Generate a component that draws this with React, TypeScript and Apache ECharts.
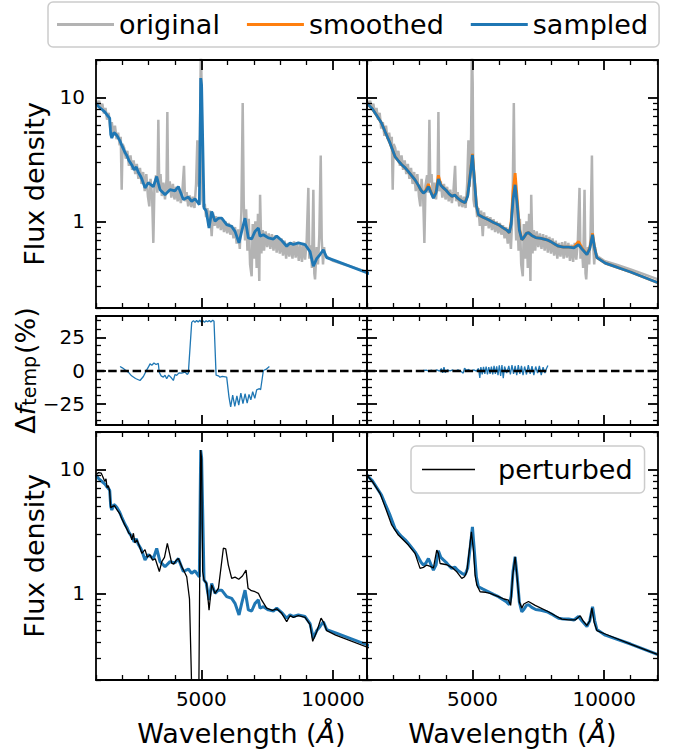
import React, { useEffect, useRef } from "react";
import * as echarts from "echarts";

type Pt = [number, number];

// ---------- data (wavelength in Å, flux density) ----------
const originalFlux: Pt[] = [
  [1000, 9.5], [1060, 8.6], [1120, 9.4], [1180, 8.0], [1240, 8.9], [1300, 7.4], [1360, 8.2], [1420, 6.6],
  [1480, 7.5], [1540, 5.6], [1600, 6.3], [1660, 4.9], [1720, 5.9], [1780, 4.6], [1840, 5.2], [1900, 4.1],
  [1940, 4.8], [1975, 1.8], [2010, 4.2], [2070, 3.9], [2130, 3.2], [2190, 3.7], [2250, 2.8], [2310, 3.4],
  [2370, 2.6], [2430, 3.1], [2490, 2.4], [2550, 2.9], [2610, 2.2], [2670, 2.7], [2730, 2.0], [2790, 2.5],
  [2850, 1.75], [2910, 2.4], [2970, 1.6], [3025, 1.32], [3070, 2.2], [3130, 1.6], [3177, 0.67], [3220, 1.95],
  [3280, 2.35], [3330, 1.7], [3367, 6.6], [3400, 2.05], [3450, 2.4], [3500, 1.6], [3560, 2.05], [3620, 1.5],
  [3680, 2.2], [3709, 7.6], [3740, 1.75], [3800, 2.1], [3860, 1.55], [3920, 2.0], [3980, 1.5], [4040, 1.9],
  [4100, 1.45], [4160, 1.8], [4220, 1.4], [4280, 1.75], [4342, 2.8], [4380, 1.45], [4440, 1.72], [4500, 1.32],
  [4560, 1.62], [4620, 1.3], [4680, 1.58], [4740, 1.28], [4800, 2.0], [4848, 4.5], [4900, 1.9], [4950, 5.0],
  [4980, 25], [5010, 13], [5040, 1.5], [5080, 1.3], [5130, 1.38], [5180, 1.08], [5230, 1.28], [5280, 0.92],
  [5330, 1.22], [5392, 0.76], [5440, 1.18], [5500, 0.92], [5560, 1.1], [5620, 0.88], [5680, 1.08], [5740, 0.85],
  [5800, 1.04], [5860, 0.82], [5920, 1.0], [5980, 0.8], [6040, 0.97], [6100, 0.78], [6160, 0.93], [6220, 0.73],
  [6280, 0.9], [6340, 0.66], [6400, 0.86], [6460, 0.6], [6520, 1.2], [6570, 9.0], [6610, 1.4], [6660, 0.7],
  [6700, 1.25], [6750, 0.58], [6800, 1.05], [6850, 0.45], [6910, 0.36], [6950, 0.95], [7000, 0.5], [7050, 1.0],
  [7100, 0.42], [7150, 1.15], [7200, 0.33], [7230, 1.64], [7280, 0.55], [7330, 0.85], [7380, 0.58], [7440, 0.83],
  [7500, 0.62], [7560, 0.8], [7620, 0.6], [7680, 0.79], [7740, 0.58], [7800, 0.77], [7860, 0.56], [7920, 0.75],
  [7980, 0.55], [8040, 0.73], [8100, 0.53], [8160, 0.7], [8220, 0.5], [8280, 0.67], [8340, 0.52], [8400, 0.68],
  [8460, 0.5], [8520, 0.69], [8580, 0.51], [8640, 0.67], [8700, 0.48], [8760, 0.65], [8820, 0.47], [8880, 0.67],
  [8940, 0.49], [9000, 0.7], [9063, 1.86], [9100, 0.5], [9150, 0.64], [9200, 0.42], [9253, 1.8], [9290, 0.38],
  [9317, 0.34], [9380, 0.62], [9430, 0.45], [9480, 0.78], [9533, 3.4], [9570, 0.72], [9620, 0.45], [9660, 0.62],
  [9700, 0.53], [10000, 0.48], [10500, 0.445], [11000, 0.41], [11500, 0.375], [12040, 0.34],
];

const sampledLeftFlux: Pt[] = [
  [1000, 9.0], [1100, 8.4], [1250, 7.9], [1340, 7.6], [1420, 7.2], [1470, 7.0], [1520, 6.8], [1560, 5.0],
  [1600, 4.7], [1680, 5.2], [1730, 5.1], [1800, 4.9], [1900, 4.5], [1980, 4.1], [2100, 3.6], [2170, 3.4],
  [2250, 3.1], [2360, 2.85], [2450, 2.6], [2530, 2.75], [2600, 2.5], [2700, 2.3], [2740, 2.2], [2861, 1.86],
  [2987, 2.05], [3177, 1.9], [3305, 2.3], [3430, 1.8], [3550, 1.7], [3620, 1.64], [3810, 1.8], [4000, 1.76],
  [4126, 1.91], [4316, 1.5], [4506, 1.57], [4632, 1.45], [4760, 1.52], [4924, 1.36], [4976, 14.3], [5010, 12.5],
  [5102, 1.28], [5180, 1.22], [5292, 0.885], [5392, 1.2], [5520, 1.0], [5646, 1.06], [5773, 1.06], [5962, 0.94],
  [6152, 0.91], [6278, 0.83], [6431, 0.67], [6532, 0.83], [6659, 1.06], [6785, 0.735], [6912, 0.72], [7038, 0.83],
  [7165, 0.885], [7228, 0.76], [7355, 0.78], [7545, 0.735], [7735, 0.72], [7861, 0.76], [8051, 0.7], [8241, 0.63],
  [8367, 0.67], [8494, 0.65], [8684, 0.67], [8937, 0.65], [9127, 0.57], [9253, 0.435], [9380, 0.5], [9507, 0.54],
  [9633, 0.59], [9760, 0.51], [10100, 0.48], [12040, 0.335],
];

const smoothedRightFlux: Pt[] = [
  [1000, 9.0], [1050, 8.7], [1200, 8.1], [1430, 6.8], [1550, 6.2], [1684, 5.3], [1874, 4.27], [2063, 3.33],
  [2200, 3.05], [2318, 2.86], [2450, 2.7], [2570, 2.52], [2700, 2.33], [2823, 2.16], [2950, 1.95], [3050, 1.78],
  [3140, 1.69], [3230, 1.78], [3330, 2.0], [3420, 1.74], [3520, 1.55], [3620, 1.75], [3708, 2.35], [3800, 1.98],
  [3900, 1.86], [4000, 1.78], [4100, 1.68], [4216, 1.59], [4330, 1.63], [4450, 1.53], [4600, 1.45], [4722, 1.41],
  [4820, 1.62], [4920, 2.45], [5000, 3.5], [5080, 2.15], [5150, 1.36], [5227, 1.13], [5400, 1.08], [5607, 1.03],
  [5800, 0.98], [5987, 0.94], [6150, 0.89], [6300, 0.85], [6400, 0.81], [6470, 1.0], [6540, 1.75], [6620, 2.45],
  [6700, 1.5], [6780, 0.88], [6873, 0.71], [6950, 0.74], [7050, 0.8], [7127, 0.81], [7250, 0.77], [7400, 0.74],
  [7600, 0.73], [7823, 0.71], [8000, 0.68], [8150, 0.65], [8266, 0.63], [8450, 0.62], [8650, 0.62], [8850, 0.62],
  [9025, 0.69], [9150, 0.61], [9343, 0.54], [9450, 0.61], [9557, 0.8], [9640, 0.6], [9722, 0.51], [10038, 0.46],
  [11000, 0.39], [12040, 0.32],
];

const sampledRightFlux: Pt[] = [
  [1000, 9.0], [1050, 8.7], [1200, 8.1], [1430, 6.8], [1550, 6.2], [1684, 5.3], [1874, 4.27], [2063, 3.33],
  [2200, 3.05], [2318, 2.86], [2450, 2.7], [2570, 2.52], [2700, 2.33], [2823, 2.16], [2950, 1.95], [3050, 1.78],
  [3140, 1.69], [3230, 1.75], [3330, 1.91], [3420, 1.72], [3520, 1.54], [3620, 1.7], [3708, 2.2], [3800, 1.95],
  [3900, 1.86], [4000, 1.78], [4100, 1.68], [4216, 1.59], [4330, 1.63], [4450, 1.53], [4600, 1.45], [4722, 1.41],
  [4820, 1.6], [4920, 2.4], [5000, 3.44], [5080, 2.1], [5150, 1.35], [5227, 1.13], [5400, 1.08], [5607, 1.03],
  [5800, 0.98], [5987, 0.94], [6150, 0.89], [6300, 0.85], [6400, 0.81], [6470, 0.95], [6540, 1.5], [6620, 1.97],
  [6700, 1.35], [6780, 0.85], [6873, 0.71], [6950, 0.74], [7050, 0.8], [7127, 0.81], [7250, 0.77], [7400, 0.74],
  [7600, 0.73], [7823, 0.71], [8000, 0.68], [8150, 0.65], [8266, 0.63], [8450, 0.62], [8650, 0.62], [8850, 0.61],
  [9025, 0.65], [9150, 0.6], [9343, 0.54], [9450, 0.6], [9557, 0.78], [9640, 0.6], [9722, 0.51], [10038, 0.46],
  [11000, 0.39], [12040, 0.32],
];

const perturbedLeftFlux: Pt[] = [
  [1000, 9.1], [1100, 9.4], [1200, 9.3], [1300, 8.3], [1340, 8.0], [1380, 8.4], [1420, 7.1], [1470, 7.4],
  [1520, 6.6], [1560, 4.9], [1620, 5.0], [1700, 5.1], [1800, 4.7], [1900, 4.4], [1980, 4.0], [2080, 3.6],
  [2170, 3.3], [2250, 3.05], [2300, 3.0], [2360, 2.7], [2420, 3.05], [2480, 2.55], [2550, 2.7], [2650, 2.4],
  [2740, 2.1], [2861, 2.25], [2950, 1.95], [3050, 2.05], [3150, 1.85], [3250, 1.9], [3405, 1.5], [3500, 1.8],
  [3600, 1.95], [3709, 2.53], [3874, 1.75], [3950, 1.72], [4050, 1.85], [4126, 1.91], [4250, 1.65], [4350, 1.5],
  [4445, 1.36], [4550, 0.9], [4696, 0.05], [4886, 0.05], [4976, 14.3], [5010, 12], [5050, 1.5], [5102, 1.28],
  [5200, 1.2], [5292, 0.73], [5392, 1.17], [5520, 1.0], [5650, 1.1], [5836, 2.31], [5925, 2.28], [6025, 1.69],
  [6152, 1.32], [6280, 1.35], [6420, 1.3], [6560, 1.38], [6697, 1.54], [6773, 1.1], [6900, 1.05], [7040, 1.03],
  [7165, 1.0], [7292, 0.88], [7481, 0.76], [7700, 0.73], [7861, 0.75], [8051, 0.69], [8241, 0.59], [8367, 0.66],
  [8494, 0.64], [8684, 0.66], [8937, 0.64], [9127, 0.56], [9228, 0.41], [9380, 0.49], [9545, 0.63], [9650, 0.58],
  [9760, 0.5], [10100, 0.46], [12040, 0.32],
];

const perturbedRightFlux: Pt[] = [
  [1000, 9.0], [1050, 8.7], [1200, 8.0], [1494, 6.4], [1684, 5.0], [1937, 3.56], [2190, 2.95], [2570, 2.45],
  [2823, 2.1], [3013, 1.59], [3140, 1.62], [3266, 1.69], [3400, 1.65], [3519, 1.6], [3646, 2.23], [3708, 2.1],
  [3773, 1.74], [4026, 1.7], [4216, 1.62], [4406, 1.49], [4596, 1.32], [4700, 1.36], [4786, 1.49], [4900, 2.4],
  [4960, 3.14], [5040, 2.2], [5100, 1.4], [5165, 1.17], [5291, 1.03], [5500, 1.02], [5671, 1.0], [5987, 0.94],
  [6200, 0.9], [6367, 0.88], [6450, 0.8], [6530, 1.4], [6620, 1.97], [6700, 1.3], [6780, 0.85], [6873, 0.76],
  [6950, 0.82], [7127, 0.86], [7380, 0.8], [7886, 0.71], [8150, 0.66], [8392, 0.62], [8645, 0.61], [8899, 0.61],
  [9089, 0.66], [9200, 0.6], [9343, 0.55], [9450, 0.6], [9533, 0.76], [9620, 0.58], [9722, 0.5], [10038, 0.47],
  [11000, 0.39], [12040, 0.32],
];

// Δf_temp in %
const deltaLeft: Pt[] = [
  [1912, 3.0], [2000, 2.0], [2100, 0.5], [2228, -1.2], [2350, -4.0], [2500, -6.0], [2671, -7.5], [2800, -4.5],
  [2900, -0.5], [2987, 2.5], [3051, 5.0], [3120, 4.0], [3200, 5.6], [3280, 4.5], [3367, 5.3], [3400, -1.2],
  [3470, -4.0], [3557, -5.0], [3620, -3.5], [3684, -6.2], [3760, -3.5], [3860, -5.5], [3937, -7.5], [4000, -3.0],
  [4063, -3.7], [4150, -1.8], [4250, -2.0], [4380, -1.2], [4470, -3.0], [4506, -2.0], [4634, 36.2], [4700, 37.5],
  [4760, 36.2], [4820, 37.6], [4880, 36.5], [4940, 37.8], [5000, 36.4], [5060, 37.4], [5120, 36.2], [5180, 37.5],
  [5240, 36.6], [5300, 37.6], [5360, 36.5], [5432, 37.8], [5481, 37.0], [5560, -3.5], [5646, -4.0], [5709, -5.0],
  [5800, -4.5], [5962, -5.0], [6050, -20.0], [6114, -27.4], [6190, -18.5], [6270, -27.0], [6350, -19.0], [6420, -26.0],
  [6500, -17.0], [6580, -25.0], [6660, -17.5], [6740, -24.5], [6810, -18.0], [6880, -22.0], [6950, -16.0], [7030, -21.0],
  [7100, -14.5], [7203, -13.7], [7250, -14.5], [7355, 0.0], [7450, 0.8], [7583, 3.0],
];

const deltaRight: Pt[] = [
  [3139, 0.0], [3250, 0.3], [3350, -0.5], [3450, 0.2], [3550, -0.6], [3650, 0.5], [3750, -0.5], [3820, 1.5],
  [3870, -1.8], [3920, 2.5], [3970, -1.5], [4050, 0.5], [4150, -0.3], [4250, 0.4], [4350, -0.8], [4450, 0.5],
  [4550, -0.4], [4650, -2.0], [4700, 1.8], [4780, 0.0], [4850, 0.8], [4950, -0.5], [5050, 0.5], [5150, -0.5],
  [5230, 1.5], [5280, -5.5], [5320, 2.5], [5370, -3.0], [5420, 2.8], [5470, -2.5], [5520, 3.0], [5570, -3.0],
  [5620, 2.5], [5670, -2.5], [5720, 3.0], [5770, -3.0], [5820, 3.5], [5870, -2.5], [5920, 3.2], [5970, -3.5],
  [6020, 3.8], [6070, -4.0], [6120, 4.0], [6170, -5.8], [6220, 3.0], [6300, -2.0], [6380, 3.5], [6440, -3.0],
  [6500, 4.0], [6560, -2.5], [6620, 3.5], [6680, -3.5], [6740, 4.0], [6800, -2.5], [6860, 3.5], [6920, -3.5],
  [6980, 3.0], [7050, -3.0], [7120, 4.0], [7190, -2.5], [7260, 3.2], [7330, -3.5], [7400, 3.0], [7470, -2.0],
  [7540, 3.5], [7610, -3.5], [7680, 2.5], [7750, -2.0], [7810, 1.5], [7863, 3.7],
];

// ---------- tick values ----------
const xMajorTicks = [5000, 10000];
const xMinorTicks = [1000, 2000, 3000, 4000, 6000, 7000, 8000, 9000, 11000, 12000];
const fluxMajorTicks = [1, 10];
const fluxMinorTicks = [0.2, 0.3, 0.4, 0.5, 0.6, 0.7, 0.8, 0.9, 2, 3, 4, 5, 6, 7, 8, 9, 20];
const deltaMajorTicks = [-25, 0, 25];
const deltaMinorTicks = [-37.5, -31.25, -18.75, -12.5, -6.25, 6.25, 12.5, 18.75, 31.25, 37.5];

const FONT = "DejaVu Sans";
const BLUE = "#1f77b4";
const ORANGE = "#ff7f0e";
const GREY = "#b3b3b3";
const BLACK = "#000000";

function buildOption() {
  const panels = [
    { row: 0, col: 0 }, { row: 0, col: 1 },
    { row: 1, col: 0 }, { row: 1, col: 1 },
    { row: 2, col: 0 }, { row: 2, col: 1 },
  ];
  const colLeft = [96, 367];
  const colWidth = [271, 291];
  const xMax = [11290, 12040];
  const rowTop = [60, 316, 432];
  const rowHeight = [248, 109, 248];

  const tick = (major: boolean, vals: number[]) => ({
    show: true,
    inside: true,
    length: major ? 10 : 5,
    customValues: vals,
    lineStyle: { color: "#000", width: major ? 1.8 : 1.3 },
  });
  const labelStyle = { fontSize: 20, color: "#000", fontFamily: FONT };
  const spine = { show: true, onZero: false, lineStyle: { color: "#000", width: 1.8 } };
  const noSpine = { show: false, onZero: false };

  const grid: any[] = [];
  const xAxis: any[] = [];
  const yAxis: any[] = [];

  panels.forEach((p, gi) => {
    grid.push({
      left: colLeft[p.col], top: rowTop[p.row], width: colWidth[p.col], height: rowHeight[p.row],
      show: false, containLabel: false,
    });
    const isBottom = p.row === 2;
    const isLeft = p.col === 0;
    const xb = {
      type: "value", gridIndex: gi, min: 1000, max: xMax[p.col], z: 10,
      splitLine: { show: false },
    };
    xAxis.push({
      ...xb, position: "bottom", axisLine: spine, axisTick: tick(true, xMajorTicks),
      axisLabel: {
        show: isBottom, customValues: xMajorTicks, margin: 9, ...labelStyle,
        formatter: (v: number) => String(v),
      },
      name: isBottom ? "Wavelength ({i|Å})" : "",
      nameLocation: "middle",
      nameGap: 40,
      nameTextStyle: {
        fontSize: 27, fontFamily: FONT, color: "#000",
        padding: isLeft ? [0, 0, 0, 20] : 0,
        rich: { i: { fontSize: 27, fontFamily: FONT, color: "#000", fontStyle: "italic" } },
      },
    });
    xAxis.push({ ...xb, position: "bottom", axisLine: noSpine, axisTick: tick(false, xMinorTicks), axisLabel: { show: false } });
    xAxis.push({ ...xb, position: "top", axisLine: spine, axisTick: tick(true, xMajorTicks), axisLabel: { show: false } });
    xAxis.push({ ...xb, position: "top", axisLine: noSpine, axisTick: tick(false, xMinorTicks), axisLabel: { show: false } });

    const isDelta = p.row === 1;
    const yb: any = isDelta
      ? { type: "value", gridIndex: gi, min: -41, max: 41, z: 10, splitLine: { show: false } }
      : { type: "log", logBase: 10, gridIndex: gi, min: 0.2, max: 20, z: 10, splitLine: { show: false } };
    const yMaj = isDelta ? deltaMajorTicks : fluxMajorTicks;
    const yMin = isDelta ? deltaMinorTicks : fluxMinorTicks;
    const yName = !isLeft ? "" : isDelta ? "{d|Δ}{f|f}{s|temp}{p|(%)}" : "Flux density";
    yAxis.push({
      ...yb, position: "left", axisLine: spine, axisTick: tick(true, yMaj),
      axisLabel: {
        show: isLeft, customValues: yMaj, margin: 11, ...labelStyle,
        formatter: (v: number) => (v < 0 ? "\u2212" + String(-v) : String(v)),
      },
      name: yName,
      nameLocation: "middle",
      nameGap: isDelta ? 43 : 48,
      nameTextStyle: {
        fontSize: 27, fontFamily: FONT, color: "#000",
        rich: {
          d: { fontSize: 27, fontFamily: FONT, color: "#000", lineHeight: 40, verticalAlign: "bottom" },
          f: { fontSize: 27, fontFamily: FONT, color: "#000", fontStyle: "italic", lineHeight: 40, verticalAlign: "bottom" },
          s: { fontSize: 19, fontFamily: FONT, color: "#000", lineHeight: 12, verticalAlign: "bottom" },
          p: { fontSize: 27, fontFamily: FONT, color: "#000", lineHeight: 40, verticalAlign: "bottom", padding: [0, 0, 0, 2] },
        },
      },
    });
    yAxis.push({ ...yb, position: "left", axisLine: noSpine, axisTick: tick(false, yMin), axisLabel: { show: false } });
    yAxis.push({ ...yb, position: "right", axisLine: spine, axisTick: tick(true, yMaj), axisLabel: { show: false } });
    yAxis.push({ ...yb, position: "right", axisLine: noSpine, axisTick: tick(false, yMin), axisLabel: { show: false } });
  });

  const line = (name: string, data: Pt[], gi: number, color: string, width: number, extra: any = {}) => ({
    type: "line", name, data, xAxisIndex: gi * 4, yAxisIndex: gi * 4,
    symbol: "none", showSymbol: false, clip: true, silent: true,
    color, itemStyle: { color }, lineStyle: { color, width },
    emphasis: { disabled: true },
    ...extra,
  });
  const zeroLine = {
    markLine: {
      silent: true, symbol: ["none", "none"], label: { show: false },
      lineStyle: { color: "#000", width: 2.4, type: [8.5, 3.7] },
      data: [{ yAxis: 0 }],
    },
  };

  const series = [
    line("original", originalFlux, 0, GREY, 2.5),
    line("sampled", sampledLeftFlux, 0, BLUE, 2.8),
    line("original", originalFlux, 1, GREY, 2.5),
    line("smoothed", smoothedRightFlux, 1, ORANGE, 2.8),
    line("sampled", sampledRightFlux, 1, BLUE, 2.8),
    line("Δf left", deltaLeft, 2, BLUE, 1.3, zeroLine),
    line("Δf right", deltaRight, 3, BLUE, 1.3, zeroLine),
    line("sampled", sampledLeftFlux, 4, BLUE, 3),
    line("perturbed", perturbedLeftFlux, 4, BLACK, 1.3),
    line("sampled", sampledRightFlux, 5, BLUE, 3),
    line("perturbed", perturbedRightFlux, 5, BLACK, 1.3),
  ];

  const legendBase = {
    orient: "horizontal", icon: "rect", selectedMode: false,
    backgroundColor: "rgba(255,255,255,0.8)", borderColor: "#cccccc", borderWidth: 1.5, borderRadius: 5,
    itemStyle: { borderWidth: 0 },
  };

  return {
    animation: false,
    grid, xAxis, yAxis, series,
    legend: [
      {
        ...legendBase, left: 48, top: 2, padding: [9, 11, 9, 9],
        itemWidth: 57, itemHeight: 3, itemGap: 27,
        textStyle: { fontSize: 27, fontFamily: FONT, color: "#000" },
        data: ["original", "smoothed", "sampled"],
      },
      {
        ...legendBase, left: 411, top: 446, padding: [10, 12, 10, 11],
        itemWidth: 53, itemHeight: 1.5, itemGap: 10,
        textStyle: { fontSize: 27, fontFamily: FONT, color: "#000", padding: [0, 0, 0, 18] },
        data: ["perturbed"],
      },
    ],
  };
}

export default function App() {
  const ref = useRef<HTMLDivElement>(null);
  useEffect(() => {
    if (!ref.current) return;
    const chart = echarts.init(ref.current, null, { renderer: "svg" });
    chart.setOption(buildOption() as any);
    return () => chart.dispose();
  }, []);
  return (
    <div
      ref={ref}
      style={{ position: "fixed", left: 0, top: 0, width: 676, height: 754, background: "#fff" }}
    />
  );
}
